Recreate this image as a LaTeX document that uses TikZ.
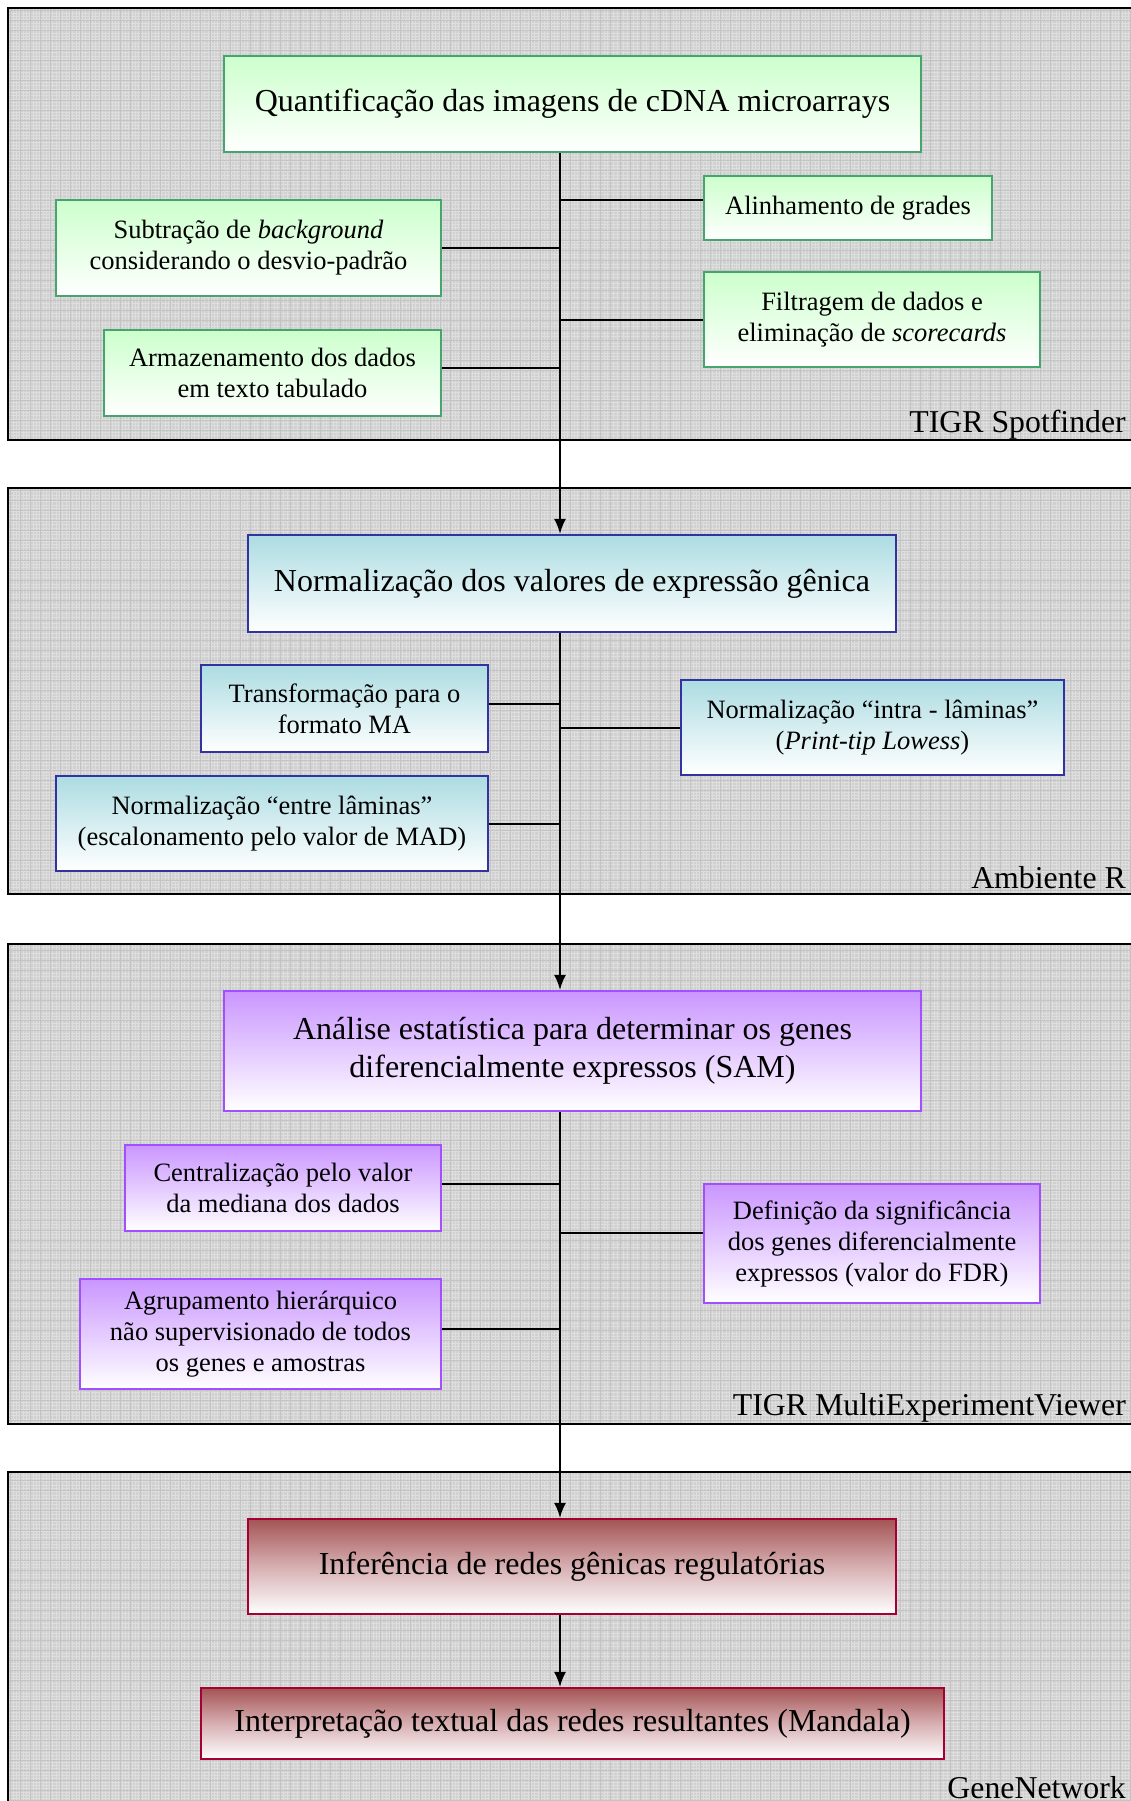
\documentclass[tikz,border=0pt]{standalone}
\usepackage{fontspec}
\setmainfont{Liberation Serif}
\usetikzlibrary{arrows.meta}
\definecolor{panelbg}{RGB}{208,208,208}
\definecolor{gridlt}{RGB}{222,222,222}
\definecolor{griddk}{RGB}{196,196,196}
\definecolor{gtop}{RGB}{204,255,204}
\definecolor{gbrd}{RGB}{70,165,110}
\definecolor{btop}{RGB}{172,220,226}
\definecolor{bbrd}{RGB}{51,51,160}
\definecolor{ptop}{RGB}{202,150,255}
\definecolor{pbrd}{RGB}{160,80,255}
\definecolor{rtop}{RGB}{164,84,84}
\definecolor{rmid}{RGB}{215,175,178}
\definecolor{rbrd}{RGB}{165,0,50}
\tikzset{
  panel/.style={draw=black,line width=2.6pt,fill=panelbg},
  box/.style={rectangle,inner sep=0pt,align=center,line width=2.2pt,bottom color=white},
  gbox/.style={box,draw=gbrd,top color=gtop},
  bbox/.style={box,draw=bbrd,top color=btop},
  pbox/.style={box,draw=pbrd,top color=ptop},
  rbox/.style={box,draw=rbrd,top color=rtop,middle color=rmid},
  big/.style={font=\fontsize{32}{38}\selectfont},
  small/.style={font=\fontsize{26.5}{31}\selectfont},
  plabel/.style={anchor=base east,inner sep=0pt,font=\fontsize{31.8}{36}\selectfont},
  conn/.style={draw=black,line width=2pt},
  arr/.style={conn,-{Latex[length=15pt,width=12pt]}}
}
\begin{document}
\begin{tikzpicture}[x=1pt,y=-1pt]
\clip (0,0) rectangle (1131,1801);
\fill[white] (0,0) rectangle (1131,1801);
% panels
\foreach \ya/\yb in {8/440,488/894,944/1424,1472/1830}{
  \fill[panelbg] (8,\ya) rectangle (1150,\yb);
  \begin{scope}
    \clip (8,\ya) rectangle (1150,\yb);
    \draw[gridlt,line width=0.7pt,step=3.3pt] (8,\ya) grid (1150,\yb);
    \draw[griddk,line width=0.9pt,step=10pt] (8,\ya) grid (1150,\yb);
  \end{scope}
  \draw[black,line width=2.6pt] (8,\ya) rectangle (1150,\yb);
}
\coordinate (trunk) at (560,0);
% panel 1
\node[gbox,big,minimum width=697pt,minimum height=96pt] (Q) at (572.5,104) {Quantificação das imagens de cDNA microarrays};
\node[gbox,small,minimum width=288pt,minimum height=64pt] (Al) at (848,208) {Alinhamento de grades};
\node[gbox,small,minimum width=385pt,minimum height=96pt] (Sub) at (248.5,248) {Subtração de \textit{background}\\considerando o desvio-padrão};
\node[gbox,small,minimum width=336pt,minimum height=95pt] (Fil) at (872,319.5) {Filtragem de dados e\\eliminação de \textit{scorecards}};
\node[gbox,small,minimum width=337pt,minimum height=86pt] (Arm) at (272.5,373) {Armazenamento dos dados\\em texto tabulado};
\node[plabel] (L1) at (1126,432) {TIGR Spotfinder};
% panel 2
\node[bbox,big,minimum width=648pt,minimum height=97pt] (N) at (572,583.5) {Normalização dos valores de expressão gênica};
\node[bbox,small,minimum width=287pt,minimum height=87pt] (Tr) at (344.5,708.5) {Transformação para o\\formato MA};
\node[bbox,small,minimum width=383pt,minimum height=95pt] (In) at (872.5,727.5) {Normalização “intra - lâminas”\\(\textit{Print-tip Lowess})};
\node[bbox,small,minimum width=432pt,minimum height=95pt] (En) at (272,823.5) {Normalização “entre lâminas”\\(escalonamento pelo valor de MAD)};
\node[plabel] (L2) at (1126,888) {Ambiente R};
% panel 3
\node[pbox,big,minimum width=697pt,minimum height=120pt] (An) at (572.5,1051) {Análise estatística para determinar os genes\\diferencialmente expressos (SAM)};
\node[pbox,small,minimum width=316pt,minimum height=86pt] (Ce) at (283,1188) {Centralização pelo valor\\da mediana dos dados};
\node[pbox,small,minimum width=336pt,minimum height=119pt] (De) at (872,1243.5) {Definição da significância\\dos genes diferencialmente\\expressos (valor do FDR)};
\node[pbox,small,minimum width=361pt,minimum height=110pt] (Ag) at (260.5,1334) {Agrupamento hierárquico\\não supervisionado de todos\\os genes e amostras};
\node[plabel] (L3) at (1126,1415) {TIGR MultiExperimentViewer};
% panel 4
\node[rbox,big,minimum width=648pt,minimum height=95pt] (Inf) at (572,1566.5) {Inferência de redes gênicas regulatórias};
\node[rbox,big,minimum width=743pt,minimum height=71pt] (Int) at (572.5,1723.5) {Interpretação textual das redes resultantes (Mandala)};
\node[plabel] (L4) at (1126,1798) {GeneNetwork};
% connectors
\draw[arr] (Q.south -| trunk) -- (N.north -| trunk);
\draw[arr] (N.south -| trunk) -- (An.north -| trunk);
\draw[arr] (An.south -| trunk) -- (Inf.north -| trunk);
\draw[arr] (Inf.south -| trunk) -- (Int.north -| trunk);
\foreach \b/\s in {Al/8,Fil/0,In/0,De/11}{\draw[conn] ([yshift=\s pt]\b.west) -- ([yshift=\s pt]\b.west -| trunk);}
\foreach \b/\s in {Sub/0,Arm/5,Tr/5,En/0,Ce/4,Ag/5}{\draw[conn] ([yshift=\s pt]\b.east) -- ([yshift=\s pt]\b.east -| trunk);}
\end{tikzpicture}
\end{document}
